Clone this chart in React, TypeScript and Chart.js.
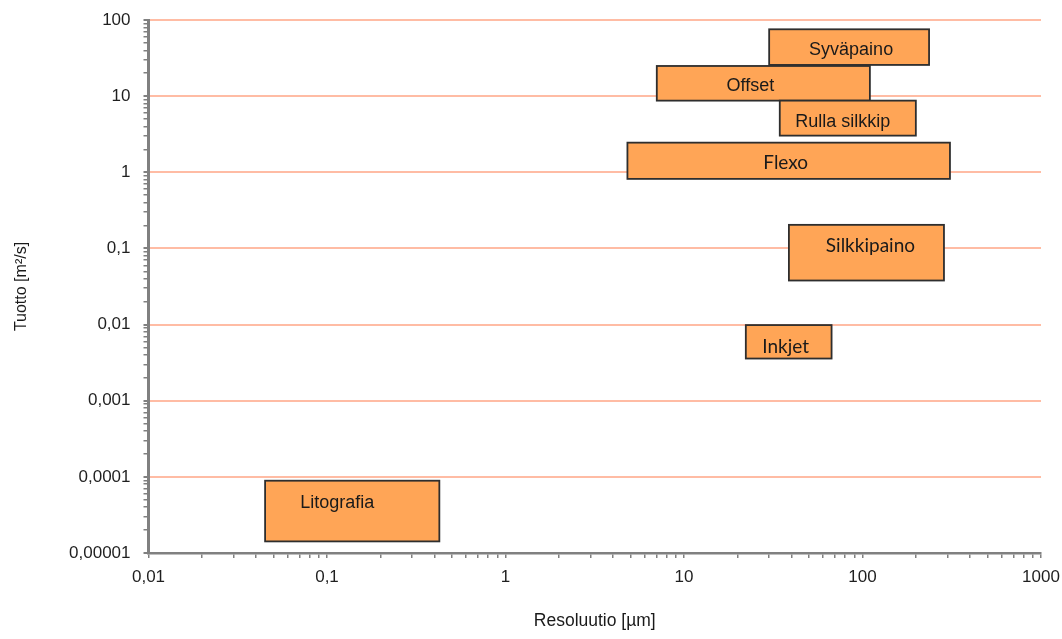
import React, { useEffect, useRef } from 'react';
import { Chart, registerables } from 'chart.js';

Chart.register(...registerables);

// Printing methods: resolution range [µm] (x) and throughput range [m²/s] (y)
const methods = ['Syväpaino', 'Offset', 'Rulla silkkip', 'Flexo', 'Silkkipaino', 'Inkjet', 'Litografia'];
const resolutionMin = [30, 7.04, 34.4, 4.82, 38.7, 22.2, 0.045];
const resolutionMax = [236, 110, 199, 309, 286, 67.1, 0.426];
const throughputMin = [25.7, 8.73, 3.03, 0.819, 0.0379, 0.00358, 0.0000142];
const throughputMax = [75.5, 24.9, 8.73, 2.45, 0.204, 0.00985, 0.000089];

const xTickValues = [0.01, 0.1, 1, 10, 100, 1000];
const xTickLabels = ['0,01', '0,1', '1', '10', '100', '1000'];
const yTickValues = [0.00001, 0.0001, 0.001, 0.01, 0.1, 1, 10, 100];
const yTickLabels = ['0,00001', '0,0001', '0,001', '0,01', '0,1', '1', '10', '100'];

const xTitle = 'Resoluutio [µm]';
const yTitle = 'Tuotto [m²/s]';

// styling (not data)
const ARIAL = '"Liberation Sans", Arial, sans-serif';
const CALIBRI = 'Lato, "Open Sans", sans-serif';
const labelStyle = [
  { font: `18px ${ARIAL}`, dx: 2, dy: 3 },
  { font: `18px ${ARIAL}`, dx: -13, dy: 3 },
  { font: `18px ${ARIAL}`, dx: -5, dy: 4 },
  { font: `19px ${CALIBRI}`, dx: -3, dy: 2 },
  { font: `19px ${CALIBRI}`, dx: 4, dy: -7 },
  { font: `19px ${CALIBRI}`, dx: -3, dy: 5 },
  { font: `18px ${ARIAL}`, dx: -15, dy: -8 },
];
const BOX_FILL = '#FFA556';
const BOX_STROKE = '#2e2e2e';
const GRID = '#FFBCA4';
const AXIS = '#808080';

const labelFor = (values: number[], labels: string[], v: number) => {
  for (let i = 0; i < values.length; i++) {
    if (Math.abs(Math.log10(v) - Math.log10(values[i])) < 1e-6) return labels[i];
  }
  return '';
};
const isMajor = (values: number[], v: number) => labelFor(values, values.map(String), v) !== '';

const buildTicks = (values: number[]) => (scale: any) => {
  const ticks: { value: number }[] = [];
  for (let i = 0; i < values.length - 1; i++) {
    for (let m = 1; m <= 9; m++) ticks.push({ value: values[i] * m });
  }
  ticks.push({ value: values[values.length - 1] });
  scale.ticks = ticks;
};

const boxesPlugin = {
  id: 'boxes',
  afterDatasetsDraw(chart: any) {
    const { ctx } = chart;
    ctx.save();
    chart.data.datasets.forEach((_: any, i: number) => {
      const pts = chart.getDatasetMeta(i).data;
      if (!pts || pts.length < 2) return;
      const x0 = Math.min(pts[0].x, pts[1].x);
      const x1 = Math.max(pts[0].x, pts[1].x);
      const y0 = Math.min(pts[0].y, pts[1].y);
      const y1 = Math.max(pts[0].y, pts[1].y);
      ctx.fillStyle = BOX_FILL;
      ctx.fillRect(x0, y0, x1 - x0, y1 - y0);
      ctx.lineWidth = 1.8;
      ctx.strokeStyle = BOX_STROKE;
      ctx.strokeRect(x0, y0, x1 - x0, y1 - y0);
      const st = labelStyle[i];
      ctx.font = st.font;
      ctx.fillStyle = '#1a1a1a';
      ctx.textAlign = 'center';
      ctx.textBaseline = 'middle';
      ctx.fillText(methods[i], (x0 + x1) / 2 + st.dx, (y0 + y1) / 2 + st.dy);
    });
    ctx.restore();
  },
};

export default function App() {
  const ref = useRef<HTMLCanvasElement>(null);
  useEffect(() => {
    if (!ref.current) return;
    const chart = new Chart(ref.current, {
      type: 'scatter',
      data: {
        datasets: methods.map((m, i) => ({
          label: m,
          data: [
            { x: resolutionMin[i], y: throughputMin[i] },
            { x: resolutionMax[i], y: throughputMax[i] },
          ],
          pointRadius: 0,
          pointHoverRadius: 0,
          showLine: false,
        })),
      },
      options: {
        responsive: false,
        animation: false,
        devicePixelRatio: 1,
        layout: { padding: { left: 8, top: 20, right: 21, bottom: 3 } },
        plugins: { legend: { display: false }, tooltip: { enabled: false } },
        events: [],
        scales: {
          x: {
            type: 'logarithmic',
            min: 0.01,
            max: 1000,
            afterBuildTicks: buildTicks(xTickValues),
            afterFit: (s: any) => { s.height = 83; s.paddingLeft = 0; s.paddingRight = 0; },
            border: { display: true, color: AXIS, width: 2.5 },
            grid: { drawOnChartArea: false, drawTicks: true, tickLength: 5, tickColor: AXIS, lineWidth: 1.5 },
            ticks: {
              autoSkip: false,
              maxRotation: 0,
              padding: 9,
              color: '#1f1f1f',
              font: { family: ARIAL, size: 17 },
              callback: (v: any) => labelFor(xTickValues, xTickLabels, Number(v)),
            },
            title: {
              display: true,
              text: xTitle,
              color: '#1a1a1a',
              font: { family: ARIAL, size: 17.5 },
              padding: { top: 4, bottom: 4 },
            },
          },
          y: {
            type: 'logarithmic',
            min: 0.00001,
            max: 100,
            afterBuildTicks: buildTicks(yTickValues),
            afterFit: (s: any) => { s.width = 140.5; s.paddingTop = 0; s.paddingBottom = 0; },
            border: { display: true, color: AXIS, width: 3 },
            grid: {
              drawOnChartArea: true,
              drawTicks: true,
              tickLength: 5,
              tickColor: AXIS,
              lineWidth: (c: any) => (c.tick && isMajor(yTickValues, c.tick.value) ? 2 : 1.5),
              color: (c: any) => (c.tick && isMajor(yTickValues, c.tick.value) ? GRID : 'rgba(0,0,0,0)'),
            },
            ticks: {
              autoSkip: false,
              padding: 13,
              color: '#1f1f1f',
              font: { family: ARIAL, size: 17 },
              callback: (v: any) => labelFor(yTickValues, yTickLabels, Number(v)),
            },
            title: {
              display: true,
              text: yTitle,
              color: '#1a1a1a',
              font: { family: ARIAL, size: 16 },
              padding: { top: 4, bottom: 4 },
            },
          },
        },
      },
      plugins: [boxesPlugin],
    });
    return () => chart.destroy();
  }, []);
  return (
    <div style={{ position: 'absolute', left: 0, top: 0, width: 1062, height: 639, background: '#fff' }}>
      <canvas ref={ref} width={1062} height={639} />
    </div>
  );
}
